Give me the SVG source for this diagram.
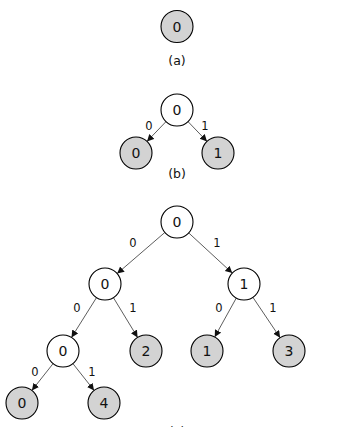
<svg xmlns="http://www.w3.org/2000/svg" width="337" height="427" viewBox="0 0 337 427">
<style>
.n{stroke:#000;stroke-width:1.1}
.leaf{fill:#d3d3d3}
.int{fill:#fff}
.t{font-family:"DejaVu Sans",sans-serif;font-size:14px;text-anchor:middle;fill:#111}
.e{font-family:"DejaVu Sans",sans-serif;font-size:11.5px;text-anchor:middle;fill:#111}
.cap{font-family:"DejaVu Sans",sans-serif;font-size:12.5px;text-anchor:middle;fill:#111}
.c line{stroke:#333;stroke-width:0.8;marker-end:url(#ah)}
</style>
<defs>
<marker id="ah" markerUnits="userSpaceOnUse" markerWidth="8" markerHeight="8" refX="7" refY="3.5" orient="auto">
<path d="M0,0 L7,3.5 L0,7 Z" fill="#111"/>
</marker>
</defs>
<rect width="337" height="427" fill="#fff"/>
<g id="connectors" class="c">
<line x1="166" y1="121.6" x2="147" y2="141.4"/>
<line x1="188" y1="121.6" x2="207" y2="141.4"/>
<line x1="164.9" y1="232.4" x2="117.1" y2="273.6"/>
<line x1="188.7" y1="232.9" x2="232.3" y2="273.1"/>
<line x1="96.5" y1="297.6" x2="71.5" y2="337.4"/>
<line x1="113.4" y1="297.6" x2="137.6" y2="337.4"/>
<line x1="236.3" y1="298" x2="214.7" y2="337"/>
<line x1="252.9" y1="297.3" x2="280.1" y2="337.7"/>
<line x1="53.1" y1="363.6" x2="31.9" y2="390.4"/>
<line x1="72.9" y1="363.6" x2="94.1" y2="390.4"/>
</g>
<g id="edge-labels">
<text class="e" x="149" y="130">0</text>
<text class="e" x="205" y="130">1</text>
<text class="e" x="133" y="247">0</text>
<text class="e" x="217" y="247">1</text>
<text class="e" x="77" y="312">0</text>
<text class="e" x="133" y="312">1</text>
<text class="e" x="219" y="312">0</text>
<text class="e" x="273" y="312">1</text>
<text class="e" x="35" y="376">0</text>
<text class="e" x="92" y="376">1</text>
</g>
<g id="a-node"><circle class="n leaf" cx="177" cy="26.5" r="16"/><text class="t" x="177" y="31.5">0</text></g>
<text class="cap" x="177" y="64.5">(a)</text>
<g id="b-root"><circle class="n int" cx="177" cy="110" r="16"/><text class="t" x="177" y="115">0</text></g>
<g id="b-left"><circle class="n leaf" cx="136" cy="153" r="16"/><text class="t" x="136" y="158">0</text></g>
<g id="b-right"><circle class="n leaf" cx="218" cy="153" r="16"/><text class="t" x="218" y="158">1</text></g>
<text class="cap" x="177" y="177.5">(b)</text>
<g id="c-root"><circle class="n int" cx="177" cy="222" r="16"/><text class="t" x="177" y="227">0</text></g>
<g id="c-l"><circle class="n int" cx="105" cy="284" r="16"/><text class="t" x="105" y="289">0</text></g>
<g id="c-r"><circle class="n int" cx="244" cy="284" r="16"/><text class="t" x="244" y="289">1</text></g>
<g id="c-ll"><circle class="n int" cx="63" cy="351" r="16"/><text class="t" x="63" y="356">0</text></g>
<g id="c-lr"><circle class="n leaf" cx="146" cy="351" r="16"/><text class="t" x="146" y="356">2</text></g>
<g id="c-rl"><circle class="n leaf" cx="207" cy="351" r="16"/><text class="t" x="207" y="356">1</text></g>
<g id="c-rr"><circle class="n leaf" cx="289" cy="351" r="16"/><text class="t" x="289" y="356">3</text></g>
<g id="c-lll"><circle class="n leaf" cx="22" cy="403" r="16"/><text class="t" x="22" y="408">0</text></g>
<g id="c-llr"><circle class="n leaf" cx="104" cy="403" r="16"/><text class="t" x="104" y="408">4</text></g>
<text class="cap" x="177" y="436">(c)</text>
</svg>
